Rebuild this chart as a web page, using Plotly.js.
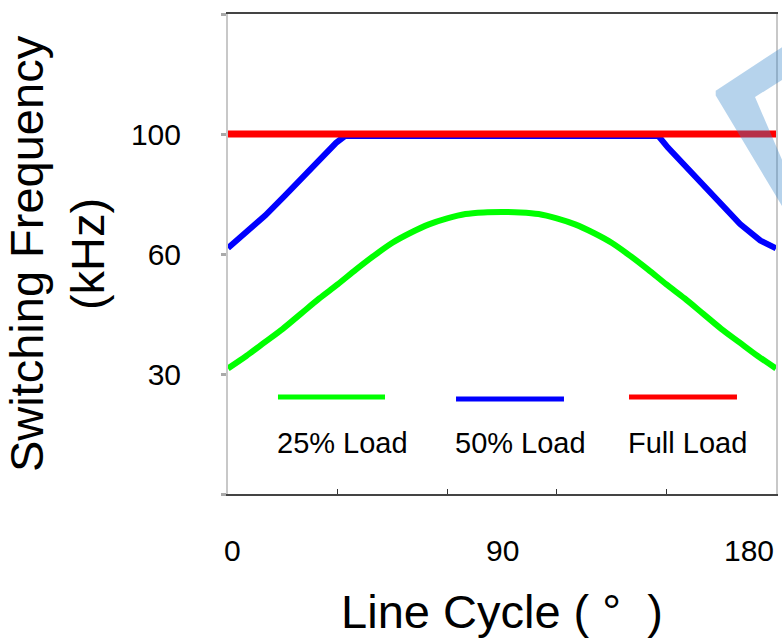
<!DOCTYPE html>
<html>
<head>
<meta charset="utf-8">
<script src="https://cdn.plot.ly/plotly-3.0.1.min.js"></script>
<style>html,body{margin:0;padding:0;background:#fff;}#chart{width:782px;height:642px;}</style>
</head>
<body>
<div id="chart"></div>
<script>
// Line cycle angle (degrees) and switching frequency (axis units)
const greenX = [0, 6, 12, 18, 24, 30, 36, 42, 48, 54, 60, 66, 72, 78, 84, 90, 96, 102, 108, 114, 120, 126, 132, 138, 144, 150, 156, 162, 168, 174, 180];
const greenY = [31.4, 34.5, 37.9, 41.3, 45.1, 48.9, 52.4, 56.1, 59.6, 62.8, 65.3, 67.4, 68.9, 70.0, 70.4, 70.5, 70.4, 70.0, 68.9, 67.4, 65.3, 62.8, 59.6, 56.1, 52.4, 48.9, 45.1, 41.3, 37.9, 34.5, 31.4];
const blueX = [0, 5.6, 12.2, 18.7, 25.3, 31.9, 35.5, 38.4, 141.4, 144.5, 148.5, 155.0, 161.6, 168.2, 174.8, 180];
const blueY = [61.5, 65.0, 69.6, 74.6, 80.0, 85.4, 87.8, 89.5, 89.5, 86.6, 83.3, 77.9, 72.5, 67.5, 63.4, 61.4];
const redX = [0, 180];
const redY = [90, 90];

const seriesNames = ['25% Load', '50% Load', 'Full Load'];
const seriesColors = ['#00ff00', '#0000ff', '#ff0000'];

const yTickVals = [0, 30, 60, 90, 120];
const yTickText = ['', '30', '60', '100', ''];
const xTickVals = [0, 36, 72, 108, 144, 180];
const xLabelVals = [0, 90, 180];
const xLabelText = ['0', '90', '180'];

const FONT = 'Liberation Sans, Arial, sans-serif';

const traces = [
  {x: greenX, y: greenY, name: seriesNames[0], mode: 'lines', line: {color: seriesColors[0], width: 6, shape: 'spline', smoothing: 0.8}},
  {x: blueX, y: blueY, name: seriesNames[1], mode: 'lines', line: {color: seriesColors[1], width: 6, shape: 'linear'}},
  {x: redX, y: redY, name: seriesNames[2], mode: 'lines', line: {color: seriesColors[2], width: 7}}
];

// legend: line samples above labels
const legX = [[0.0912, 0.2865], [0.4161, 0.6131], [0.7318, 0.9288]];
const legY = [0.202, 0.198, 0.202];
const shapes = [];
const annotations = [];
for (let i = 0; i < 3; i++) {
  shapes.push({type: 'line', xref: 'paper', yref: 'paper', x0: legX[i][0], x1: legX[i][1], y0: legY[i], y1: legY[i],
    line: {color: seriesColors[i], width: 5}});
  annotations.push({xref: 'paper', yref: 'paper', x: legX[i][0], y: 0.106, xanchor: 'left', yanchor: 'middle',
    xshift: -3, text: seriesNames[i], showarrow: false, font: {family: FONT, size: 29, color: '#000'}});
}
// x tick labels
for (let i = 0; i < xLabelVals.length; i++) {
  annotations.push({xref: 'x', yref: 'paper', x: xLabelVals[i], y: -0.1167,
    xanchor: i === xLabelVals.length - 1 ? 'right' : 'center',
    xshift: i === 0 ? 4 : 0, yanchor: 'middle',
    text: xLabelText[i], showarrow: false, font: {family: FONT, size: 30, color: '#000'}});
}
// light-blue watermark chevron at top right
shapes.push({type: 'path', xref: 'paper', yref: 'paper', layer: 'above',
  path: 'M 0.890,0.840 L 1.011,0.931 L 1.011,0.8625 L 0.9617,0.827 L 1.011,0.696 L 1.011,0.600 L 0.890,0.830 Z',
  fillcolor: 'rgb(54,134,201)', opacity: 0.36, line: {width: 0}});

const layout = {
  width: 782, height: 642,
  margin: {l: 228, r: 6, t: 14, b: 148},
  paper_bgcolor: '#fff', plot_bgcolor: '#fff',
  showlegend: false,
  font: {family: FONT, color: '#000'},
  xaxis: {
    range: [0, 180], tickvals: xTickVals, showticklabels: false,
    ticks: 'inside', ticklen: 5, tickwidth: 1, tickcolor: '#333',
    showgrid: false, zeroline: false,
    showline: true, linecolor: '#444', linewidth: 2, mirror: true,
    title: {text: 'Line Cycle (\u00a0°\u00a0\u00a0)', font: {family: FONT, size: 47, color: '#000'}, standoff: 100},
    automargin: false
  },
  yaxis: {
    range: [0, 120], tickvals: yTickVals, ticktext: yTickText,
    ticks: 'outside', ticklen: 5, tickwidth: 3, tickcolor: '#aaa',
    ticklabelstandoff: 34,
    tickfont: {family: FONT, size: 30, color: '#000'},
    showgrid: false, zeroline: false,
    showline: true, linecolor: '#c8c8c8', linewidth: 2, mirror: true,
    title: {text: 'Switching Frequency<br>(kHz)', font: {family: FONT, size: 47, color: '#000'}, standoff: 11},
    automargin: false
  },
  shapes: shapes,
  annotations: annotations
};

Plotly.newPlot('chart', traces, layout, {displayModeBar: false, staticPlot: true});
</script>
</body>
</html>
